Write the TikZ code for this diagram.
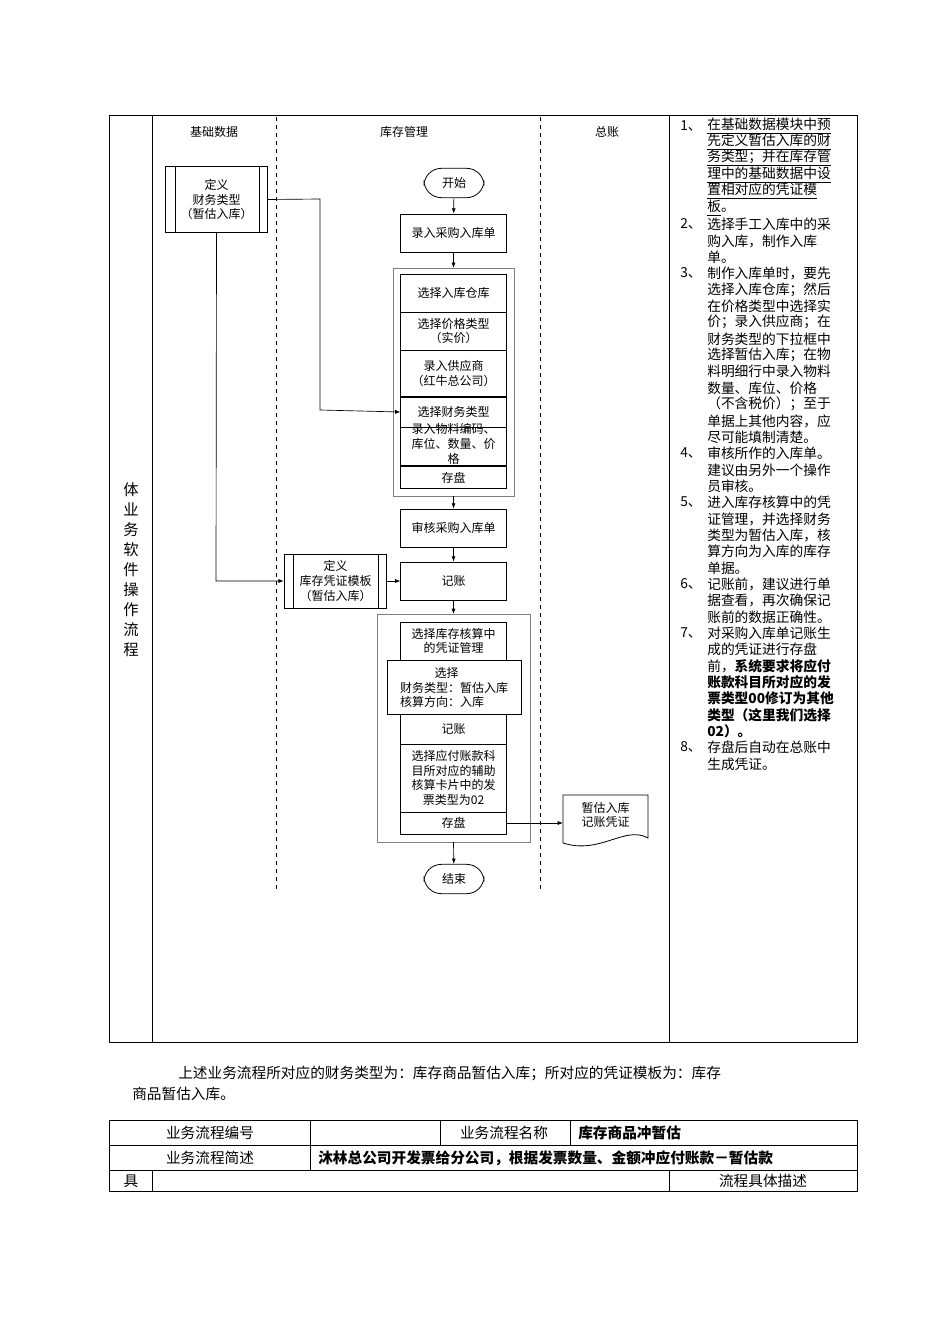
\documentclass[tikz,border=0pt]{standalone}
\usepackage{fontspec}
\setmainfont{Noto Sans CJK SC}
\usetikzlibrary{arrows.meta}
\begin{document}
\begin{tikzpicture}[x=0.75pt,y=-0.75pt,
  box/.style={draw,line width=0.6pt,fill=white,align=center,inner sep=1pt,font=\fontsize{9}{11}\selectfont},
  term/.style={draw,rounded corners=13pt,line width=0.6pt,minimum width=45pt,minimum height=22pt,font=\fontsize{9}{11}\selectfont},
  arr/.style={-{Latex[length=4pt,width=3pt]},line width=0.5pt},
  lane/.style={dashed,line width=0.5pt},
  tx/.style={anchor=west,inner sep=0pt,font=\fontsize{10.3}{12}\selectfont},
  hd/.style={font=\fontsize{9}{11}\selectfont}]
\useasboundingbox (0,0) rectangle (950,1344);
% outer table
\draw[line width=0.6pt] (109,115) rectangle (857,1042);
\draw[line width=0.6pt] (152,115) -- (152,1042);
\draw[line width=0.6pt] (669,115) -- (669,1042);
\node[font=\fontsize{11.5}{15}\selectfont,align=center] (vt) at (131,570) {体\\业\\务\\软\\件\\操\\作\\流\\程};
\node[hd] (h1) at (214,132) {基础数据};
\node[hd] (h2) at (404,132) {库存管理};
\node[hd] (h3) at (607,132) {总账};
\draw[lane] (276,117) -- (276,892);
\draw[lane] (540,117) -- (540,892);
% def1
\node[box,minimum width=77pt,minimum height=50pt] (d1) at (216.5,199.5) {定义\\财务类型\\（暂估入库）};
\draw (175,166) -- (175,233) (259,166) -- (259,233);
\node[term] (st) at (454,183) {开始};
\node[box,minimum width=79pt,minimum height=28.5pt] (n1) at (453.5,233) {录入采购入库单};
% group1
\draw[gray,line width=0.6pt] (393,268) rectangle (514,496);
\node[box,minimum width=79pt,minimum height=28.5pt] (g1a) at (453.5,293) {选择入库仓库};
\node[box,minimum width=79pt,minimum height=28.5pt] (g1b) at (453.5,331) {选择价格类型\\（实价）};
\node[box,minimum width=79pt,minimum height=35pt] (g1c) at (453.5,373.5) {录入供应商\\（红牛总公司）};
\node[box,minimum width=79pt,minimum height=22.5pt] (g1d) at (453.5,412) {选择财务类型};
\node[box,minimum width=79pt,minimum height=29pt,text height=0pt] (g1e) at (453.5,446.5) {};
\node[hd,align=center,font=\fontsize{9}{11}\selectfont] (g1et) at (453.5,444) {录入物料编码、\\库位、数量、价\\格};
\node[box,minimum width=79pt,minimum height=17pt] (g1f) at (453.5,477.5) {存盘};
% arrows group1
\draw[arr] (st) -- (n1);
\draw[arr] (n1) -- (453.5,268);
\draw[arr] (d1.east) -- (320,199) -- (320,410) -- (g1d.west);
\node[box,minimum width=79pt,minimum height=28.5pt] (n2) at (453.5,528) {审核采购入库单};
\draw[arr] (453.5,496) -- (n2);
% def2
\node[box,minimum width=77pt,minimum height=40.5pt] (d2) at (335.5,581) {定义\\库存凭证模板\\（暂估入库）};
\draw (293,554) -- (293,608) (378,554) -- (378,608);
\node[box,minimum width=79pt,minimum height=28.5pt] (n3) at (453.5,581) {记账};
\draw[arr] (d1.south) -- (216,581) -- (d2.west);
\draw[arr] (d2) -- (n3);
\draw[arr] (n2) -- (n3);
% group2
\draw[gray,line width=0.6pt] (377,614) rectangle (530,842);
\draw[arr] (n3) -- (453.5,614);
\node[box,minimum width=79pt,minimum height=28.5pt] (g2a) at (453.5,641) {选择库存核算中\\的凭证管理};
\node[box,minimum width=100.5pt,minimum height=41pt,align=left] (g2b) at (454,687.5) {\hspace*{26pt}选择\\财务类型：暂估入库\\核算方向：入库};
\node[box,minimum width=79pt,minimum height=22pt] (g2c) at (453.5,729.5) {记账};
\node[box,minimum width=79pt,minimum height=51pt] (g2d) at (453.5,778) {选择应付账款科\\目所对应的辅助\\核算卡片中的发\\票类型为02};
\node[box,minimum width=79pt,minimum height=16.5pt] (g2e) at (453.5,823) {存盘};
% document
\draw[line width=0.6pt,fill=white] (563,795) -- (648,795) -- (648,838) .. controls (625,825) and (600,855) .. (563,843) -- cycle;
\node[hd,align=center] (doc) at (605.5,815) {暂估入库\\记账凭证};
\coordinate (docw) at (563,823);
\draw[arr] (g2e.east) -- (docw);
\node[term] (en) at (454,879) {结束};
\draw[arr] (453.5,842) -- (en);
% right text
\foreach \y/\n in {126/1,224/2,273/3,453/4,502/5,584/6,633/7,747/8}
  \node[tx] (num\n) at (680,\y) {\n、};
\foreach \y/\t in {126/\underline{在基础数据模块中预},142/\underline{先定义暂估入库的财},158/\underline{务类型；并在库存管},175/\underline{理中的基础数据中设},191/\underline{置相对应的凭证模},208/\underline{板}。,
224/选择手工入库中的采,241/购入库，制作入库,257/单。,
273/制作入库单时，要先,290/选择入库仓库；然后,306/在价格类型中选择实,322/价；录入供应商；在,339/财务类型的下拉框中,355/选择暂估入库；在物,371/料明细行中录入物料,388/数量、库位、价格,404/（不含税价）；至于,421/单据上其他内容，应,437/尽可能填制清楚。,
453/审核所作的入库单。,470/建议由另外一个操作,486/员审核。,
502/进入库存核算中的凭,519/证管理，并选择财务,535/类型为暂估入库，核,551/算方向为入库的库存,568/单据。,
584/记账前，建议进行单,600/据查看，再次确保记,617/账前的数据正确性。,
633/对采购入库单记账生,649/成的凭证进行存盘,666/前，\textbf{系统要求将应付},682/\textbf{账款科目所对应的发},698/\textbf{票类型00修订为其他},715/\textbf{类型（这里我们选择},731/\textbf{02）。},
747/存盘后自动在总账中,764/生成凭证。}
  \node[tx] at (707,\y) {\t};
% bottom paragraph
\node[tx,font=\fontsize{11}{13}\selectfont] (p1) at (178,1073) {上述业务流程所对应的财务类型为：库存商品暂估入库；所对应的凭证模板为：库存};
\node[tx,font=\fontsize{11}{13}\selectfont] (p2) at (132,1094) {商品暂估入库。};
% bottom table
\draw[line width=0.6pt] (109,1120) rectangle (857,1191);
\draw[line width=0.6pt] (109,1145) -- (857,1145) (109,1170) -- (857,1170);
\draw[line width=0.6pt] (310,1120) -- (310,1170) (440,1120) -- (440,1145) (570,1120) -- (570,1145);
\draw[line width=0.6pt] (152,1170) -- (152,1191) (669,1170) -- (669,1191);
\node[font=\fontsize{11}{13}\selectfont] (b1) at (210,1133) {业务流程编号};
\node[font=\fontsize{11}{13}\selectfont] (b2) at (504,1133) {业务流程名称};
\node[tx,font=\fontsize{11}{13}\bfseries\selectfont] (b3) at (578,1133) {库存商品冲暂估};
\node[font=\fontsize{11}{13}\selectfont] (b4) at (210,1158) {业务流程简述};
\node[tx,font=\fontsize{11}{13}\bfseries\selectfont] (b5) at (318,1158) {沐林总公司开发票给分公司，根据发票数量、金额冲应付账款－暂估款};
\node[font=\fontsize{11}{13}\selectfont] (b6) at (131,1181) {具};
\node[font=\fontsize{11}{13}\selectfont] (b7) at (763,1181) {流程具体描述};
\end{tikzpicture}
\end{document}
